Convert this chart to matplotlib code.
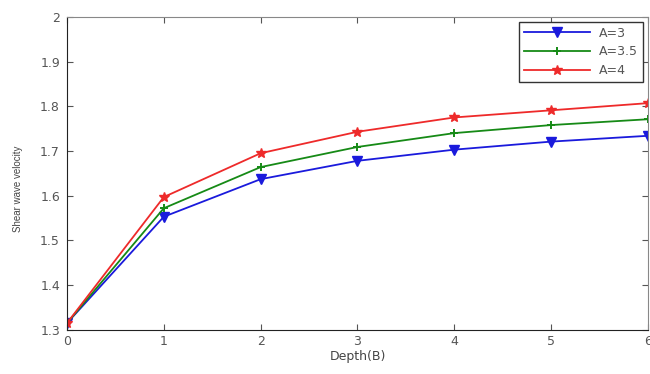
import matplotlib
matplotlib.use("Agg")
import matplotlib.pyplot as plt

# data
depth = [0, 1, 2, 3, 4, 5, 6]
vel_a3 = [1.315, 1.553, 1.637, 1.678, 1.703, 1.721, 1.734]
vel_a35 = [1.315, 1.572, 1.664, 1.709, 1.740, 1.758, 1.771]
vel_a4 = [1.315, 1.597, 1.695, 1.743, 1.775, 1.791, 1.807]
yticks = [1.3, 1.4, 1.5, 1.6, 1.7, 1.8, 1.9, 2]
ytick_labels = ["1.3", "1.4", "1.5", "1.6", "1.7", "1.8", "1.9", "2"]

plt.rcParams['font.family'] = ['DejaVu Sans']

fig = plt.figure(figsize=(6.5, 3.74), dpi=100)
ax = fig.add_axes([0.103, 0.118, 0.894, 0.837])

ax.plot(depth, vel_a3, color="#1a1adc", lw=1.3, marker="v", ms=6.5, label="A=3")
ax.plot(depth, vel_a35, color="#168a16", lw=1.3, marker="+", ms=6, mew=1.4, label="A=3.5")
ax.plot(depth, vel_a4, color="#ee2a2a", lw=1.3, marker="*", ms=7, label="A=4")

ax.set_xlim(0, 6)
ax.set_ylim(1.3, 2)
ax.set_yticks(yticks)
ax.set_yticklabels(ytick_labels)
ax.set_xticks(depth)

ax.tick_params(direction="in", top=True, right=True, length=4, labelsize=9,
               labelcolor="#555555", color="#555555")
ax.tick_params(axis="x", pad=4)
ax.tick_params(axis="y", pad=5)
for side in ["top", "right"]:
    ax.spines[side].set_color("#888888")
for side in ["left", "bottom"]:
    ax.spines[side].set_color("#222222")

ax.set_xlabel("Depth(B)", fontsize=9, color="#444444", labelpad=1)
ax.set_ylabel("Shear wave velocity", fontsize=7, color="#444444",
              family=["Liberation Sans", "DejaVu Sans"])
ax.yaxis.set_label_coords(-0.076, 0.45)

leg = ax.legend(loc="upper right", bbox_to_anchor=(0.991, 0.984), borderaxespad=0,
                fancybox=False, framealpha=1, edgecolor="#333333", fontsize=9,
                handlelength=5.3, handletextpad=0.7, borderpad=0.4, labelspacing=0.45)
for t in leg.get_texts():
    t.set_color("#555555")

fig.savefig("out.png", dpi=100)
